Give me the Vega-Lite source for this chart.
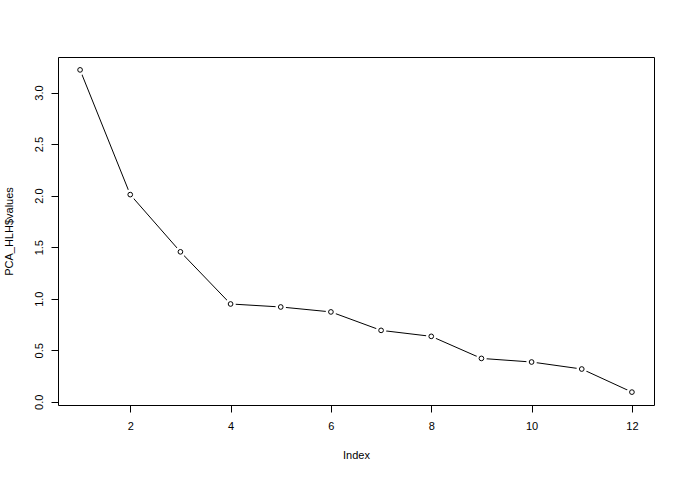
{
  "$schema": "https://vega.github.io/schema/vega-lite/v6.json",
  "width": 596,
  "height": 348,
  "autosize": {"type": "none"},
  "padding": {"left": 58, "top": 57, "right": 31, "bottom": 72},
  "background": "white",
  "config": {
    "view": {"stroke": "#000", "strokeWidth": 1},
    "font": "Liberation Sans",
    "axis": {
      "grid": false,
      "domain": false,
      "tickColor": "#000",
      "tickSize": 7,
      "tickWidth": 1,
      "labelFont": "Liberation Sans",
      "labelFontSize": 11,
      "labelColor": "#000",
      "titleFont": "Liberation Sans",
      "titleFontSize": 11,
      "titleFontWeight": "normal",
      "titleColor": "#000"
    }
  },
  "data": {
    "values": [
      {"Index": 1, "value": 3.22},
      {"Index": 2, "value": 2.01},
      {"Index": 3, "value": 1.455},
      {"Index": 4, "value": 0.949},
      {"Index": 5, "value": 0.92},
      {"Index": 6, "value": 0.872},
      {"Index": 7, "value": 0.693},
      {"Index": 8, "value": 0.635},
      {"Index": 9, "value": 0.421},
      {"Index": 10, "value": 0.386},
      {"Index": 11, "value": 0.318},
      {"Index": 12, "value": 0.094}
    ]
  },
  "encoding": {
    "x": {
      "field": "Index",
      "type": "quantitative",
      "scale": {"domain": [0.56, 12.44], "nice": false, "zero": false},
      "axis": {"values": [2, 4, 6, 8, 10, 12], "title": "Index", "labelPadding": 8, "titlePadding": 18, "labelFlush": false}
    },
    "y": {
      "field": "value",
      "type": "quantitative",
      "scale": {"domain": [-0.031, 3.345], "nice": false, "zero": false},
      "axis": {
        "values": [0, 0.5, 1, 1.5, 2, 2.5, 3],
        "format": ".1f",
        "title": "PCA_HLH$values",
        "labelAngle": -90,
        "labelAlign": "center",
        "labelBaseline": "bottom",
        "labelPadding": 7,
        "labelFlush": false,
        "titlePadding": 19
      }
    }
  },
  "layer": [
    {"mark": {"type": "line", "color": "#000", "strokeWidth": 1}},
    {"mark": {"type": "point", "shape": "circle", "filled": true, "color": "white", "size": 110, "opacity": 1}},
    {"mark": {"type": "point", "shape": "circle", "filled": false, "color": "#000", "strokeWidth": 1, "size": 22, "opacity": 1}}
  ]
}
